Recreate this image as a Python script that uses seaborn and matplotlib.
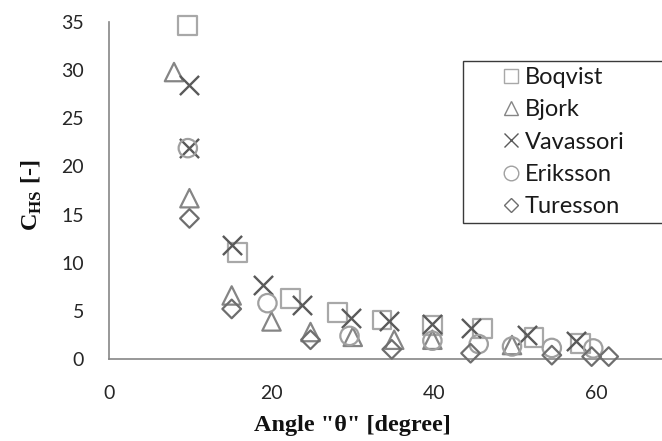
import numpy as np
import pandas as pd
import matplotlib
matplotlib.use("Agg")
import matplotlib.pyplot as plt
from matplotlib.lines import Line2D
import seaborn as sns

# Hot-spot stress coefficient vs. joint angle, per study
boqvist_angle = [9.7, 15.8, 22.3, 28.1, 33.6, 39.8, 46.0, 52.3, 58.0]
boqvist_chs = [34.6, 11.1, 6.3, 4.8, 4.05, 3.5, 3.2, 2.2, 1.6]

bjork_angle = [8.0, 9.9, 15.1, 20.0, 24.8, 30.0, 35.1, 39.8, 49.6]
bjork_chs = [29.8, 16.7, 6.6, 3.9, 2.8, 2.3, 2.0, 2.0, 1.45]

vavassori_angle = [9.9, 9.9, 15.1, 18.9, 23.8, 29.8, 34.5, 39.8, 44.5, 51.4, 57.5]
vavassori_chs = [28.5, 21.9, 11.8, 7.7, 5.6, 4.3, 3.9, 3.6, 3.2, 2.5, 1.9]

eriksson_angle = [9.7, 19.5, 29.6, 39.8, 45.5, 49.6, 54.5, 59.6]
eriksson_chs = [21.9, 5.8, 2.4, 1.9, 1.55, 1.3, 1.15, 1.1]

turesson_angle = [9.9, 15.1, 24.8, 34.8, 44.5, 54.5, 59.4, 61.5]
turesson_chs = [14.6, 5.2, 2.0, 1.0, 0.6, 0.4, 0.25, 0.25]

series_names = ["Boqvist", "Bjork", "Vavassori", "Eriksson", "Turesson"]
x_ticks = [0, 20, 40, 60]
y_ticks = [0, 5, 10, 15, 20, 25, 30, 35]

frames = []
for name, xs, ys in zip(
    series_names,
    [boqvist_angle, bjork_angle, vavassori_angle, eriksson_angle, turesson_angle],
    [boqvist_chs, bjork_chs, vavassori_chs, eriksson_chs, turesson_chs],
):
    frames.append(pd.DataFrame({"study": name, "angle": xs, "chs": ys}))
df = pd.concat(frames, ignore_index=True)

sns.set_theme(style="white")
plt.rcParams["font.family"] = ["Lato", "DejaVu Sans"]
plt.rcParams["mathtext.fontset"] = "custom"
plt.rcParams["mathtext.rm"] = "Liberation Serif:bold"
plt.rcParams["mathtext.bf"] = "Liberation Serif:bold"

styles = {
    "Boqvist":   dict(marker="s", color="#a8a8a8", s=185, leg_ms=10.5),
    "Bjork":     dict(marker="^", color="#858585", s=175, leg_ms=10.5),
    "Vavassori": dict(marker="x", color="#5a5a5a", s=190, leg_ms=10.5),
    "Eriksson":  dict(marker="o", color="#a0a0a0", s=175, leg_ms=10.5),
    "Turesson":  dict(marker="D", color="#6e6e6e", s=90, leg_ms=7.5),
}

fig = plt.figure(figsize=(6.62, 4.41), dpi=100)
ax = fig.add_axes([109 / 662, 1 - 359 / 441, 553 / 662, 337 / 441])

for name in series_names:
    st = styles[name]
    sub = df[df["study"] == name]
    if st["marker"] == "x":
        sns.scatterplot(data=sub, x="angle", y="chs", marker="x", color=st["color"],
                        s=st["s"], linewidth=1.7, ax=ax, legend=False, zorder=3,
                        clip_on=False)
    else:
        sns.scatterplot(data=sub, x="angle", y="chs", marker=st["marker"],
                        facecolor="none", edgecolor=st["color"], s=st["s"],
                        linewidth=1.6, ax=ax, legend=False, zorder=3,
                        clip_on=False)

ax.set_xlim(0, 68.06)
ax.set_ylim(0, 35)
ax.set_xticks(x_ticks)
ax.set_yticks(y_ticks)
ax.tick_params(axis="both", which="major", direction="out", length=6, width=1,
               color="#868686", labelsize=14, labelcolor="#262626")
ax.tick_params(axis="y", pad=12)
ax.tick_params(axis="x", pad=13)
for side in ["top", "right"]:
    ax.spines[side].set_visible(False)
for side in ["left", "bottom"]:
    ax.spines[side].set_color("#868686")
    ax.spines[side].set_linewidth(1.2)
ax.grid(False)

ax.set_xlabel('Angle "\u03b8" [degree]', fontfamily="Liberation Serif",
              fontweight="bold", fontsize=17.5, color="#111111")
ax.set_ylabel(r"C$_{\mathrm{HS}}$ [-]", fontfamily="Liberation Serif",
              fontweight="bold", fontsize=17.5, color="#111111")
ax.xaxis.label.set_va("center")
ax.xaxis.set_label_coords(0.44, -0.196)
ax.yaxis.label.set_va("center")
ax.yaxis.label.set_ha("center")
ax.yaxis.set_label_coords(-0.139, 0.487)

handles = []
for name in series_names:
    st = styles[name]
    if st["marker"] == "x":
        h = Line2D([], [], linestyle="none", marker="x", color=st["color"],
                   markersize=st["leg_ms"], markeredgewidth=1.0)
    else:
        h = Line2D([], [], linestyle="none", marker=st["marker"],
                   markerfacecolor="none", markeredgecolor=st["color"],
                   markersize=st["leg_ms"], markeredgewidth=1.0)
    handles.append(h)

leg = fig.legend(
    handles, series_names,
    loc="upper left",
    bbox_to_anchor=(463 / 662, 1 - 61 / 441, 210 / 662, 0.0),
    bbox_transform=fig.transFigure,
    mode="expand",
    fontsize=17,
    frameon=True, fancybox=False, framealpha=1,
    borderpad=0.25, handlelength=3.57, handletextpad=-1.19,
    labelspacing=0.48, borderaxespad=0,
)
leg.get_frame().set_edgecolor("#3a3a3a")
leg.get_frame().set_linewidth(1.0)
for t in leg.get_texts():
    t.set_color("#1a1a1a")

fig.savefig("out.png", dpi=100)
